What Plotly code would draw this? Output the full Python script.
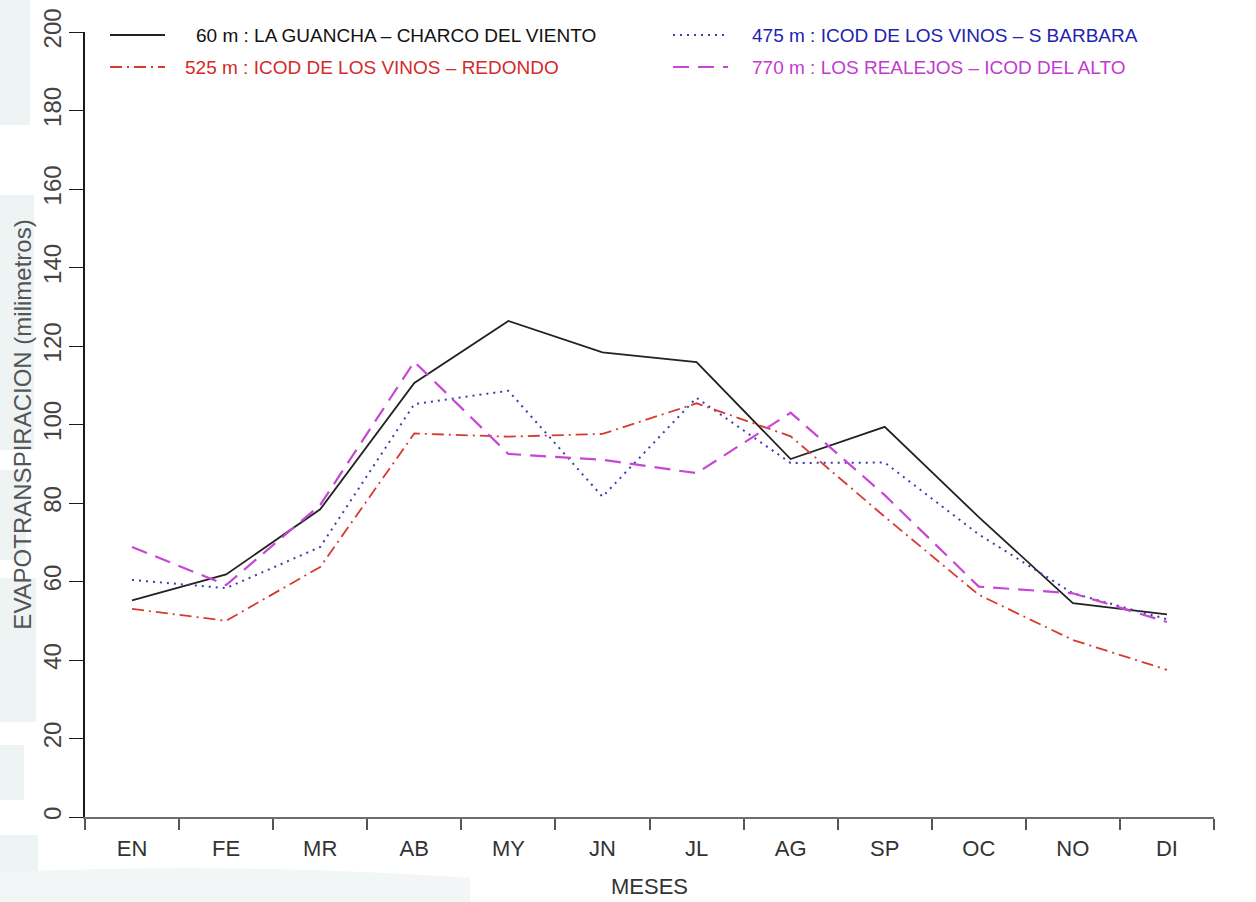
import plotly.graph_objects as go

# Monthly evapotranspiration (mm) at four stations in northern Tenerife
meses = ["EN", "FE", "MR", "AB", "MY", "JN", "JL", "AG", "SP", "OC", "NO", "DI"]
guancha_60 = [55.2, 61.8, 78.4, 110.6, 126.4, 118.4, 115.9, 91.2, 99.4, 76.4, 54.5, 51.6]
sbarbara_475 = [60.4, 58.3, 68.8, 105.2, 108.6, 81.6, 106.8, 90.2, 90.3, 72.0, 57.0, 50.4]
redondo_525 = [53.0, 50.0, 63.7, 97.7, 96.9, 97.6, 105.4, 97.0, 76.5, 56.6, 45.1, 37.5]
icodalto_770 = [68.8, 59.1, 79.5, 116.0, 92.5, 91.0, 87.6, 103.0, 82.0, 58.7, 57.0, 49.7]

y_ticks = [0, 20, 40, 60, 80, 100, 120, 140, 160, 180, 200]

W, H = 1256, 902
L, R, T, B = 85, 42, 32, 85
PW, PH = W - L - R, H - T - B

SANS = "Liberation Sans, Arial, sans-serif"


def px(x):
    return (x - L) / PW


def py(y):
    return (H - B - y) / PH


series = [
    (guancha_60, "60 m : LA GUANCHA \u2013 CHARCO DEL VIENTO", "#222222", "#111111", "solid", 1.8),
    (sbarbara_475, "475 m : ICOD DE LOS VINOS \u2013 S BARBARA", "#3c3cae", "#2222b0", "2px,5px", 2.0),
    (redondo_525, "525 m : ICOD DE LOS VINOS \u2013 REDONDO", "#d63a32", "#d42a2a", "12px,5px,2px,5px", 1.8),
    (icodalto_770, "770 m : LOS REALEJOS \u2013 ICOD DEL ALTO", "#c846d6", "#c23ad0", "16px,9px", 2.2),
]

fig = go.Figure()
for vals, name, col, _, dash, w in series:
    fig.add_trace(go.Scatter(
        x=meses, y=vals, mode="lines", name=name,
        line=dict(color=col, dash=dash, width=w),
        showlegend=False,
    ))

# hand-laid legend: two rows, two columns
legend_pos = [
    (110, 165, 35, 194),   # solid
    (673, 728, 35, 750),   # dotted
    (110, 165, 67, 183),   # dash-dot
    (673, 728, 67, 750),   # dashed
]
shapes = []
annotations = []
for (vals, name, col, tcol, dash, w), (x0, x1, yy, tx) in zip(series, legend_pos):
    shapes.append(dict(type="line", xref="paper", yref="paper",
                       x0=px(x0), x1=px(x1), y0=py(yy), y1=py(yy),
                       line=dict(color=col, dash=dash, width=w)))
    annotations.append(dict(xref="paper", yref="paper", x=px(tx), y=py(yy),
                            xanchor="left", yanchor="middle", showarrow=False,
                            text=name, font=dict(family=SANS, size=19, color=tcol)))

# faint background watermark on the left edge
wm = "#eef4f4"
for (x0, y0, x1, y1) in [(0, 0, 30, 125), (0, 195, 34, 450), (0, 470, 26, 560),
                         (0, 578, 36, 722), (0, 745, 24, 800), (0, 835, 38, 902)]:
    shapes.append(dict(type="rect", xref="paper", yref="paper", layer="below",
                       x0=px(x0), x1=px(x1), y0=py(y1), y1=py(y0),
                       fillcolor=wm, line=dict(width=0)))
shapes.append(dict(type="path", xref="paper", yref="paper", layer="below",
                   path=f"M {px(0)},{py(872)} Q {px(250)},{py(862)} {px(470)},{py(878)} "
                        f"L {px(470)},{py(902)} L {px(0)},{py(902)} Z",
                   fillcolor="#f2f6f6", line=dict(width=0)))

yaxis_common = dict(
    range=[0, 200], tickvals=y_ticks, showgrid=False, zeroline=False,
    showline=True, linecolor="#1a1a1a", linewidth=1.5,
    ticks="outside", ticklen=14, tickcolor="#1a1a1a", tickwidth=1.3,
    tickangle=-90, ticklabelstandoff=-1,
    tickfont=dict(family=SANS, size=24, color="#444444"),
    fixedrange=True,
)

fig.update_layout(
    width=W, height=H,
    margin=dict(l=L, r=R, t=T, b=B, autoexpand=False),
    paper_bgcolor="white", plot_bgcolor="rgba(0,0,0,0)",
    showlegend=False,
    xaxis=dict(
        type="category", categoryorder="array", categoryarray=meses,
        range=[-0.5, 11.5], tickson="boundaries",
        showgrid=False, zeroline=False,
        showline=True, linecolor="#6e6e6e", linewidth=2,
        ticks="outside", ticklen=11, tickcolor="#555555", tickwidth=1.5,
        ticklabelstandoff=11,
        tickfont=dict(family=SANS, size=22, color="#333333"),
        title=dict(text="MESES", standoff=18,
                   font=dict(family=SANS, size=22, color="#333333")),
    ),
    yaxis=dict(**yaxis_common,
               title=dict(text="EVAPOTRANSPIRACION (milimetros)", standoff=0,
                          font=dict(family=SANS, size=24, color="#555555"))),
    yaxis2=dict(**yaxis_common, overlaying="y", side="right", anchor="x"),
    shapes=shapes,
    annotations=annotations,
)

fig.write_html("out.html")
